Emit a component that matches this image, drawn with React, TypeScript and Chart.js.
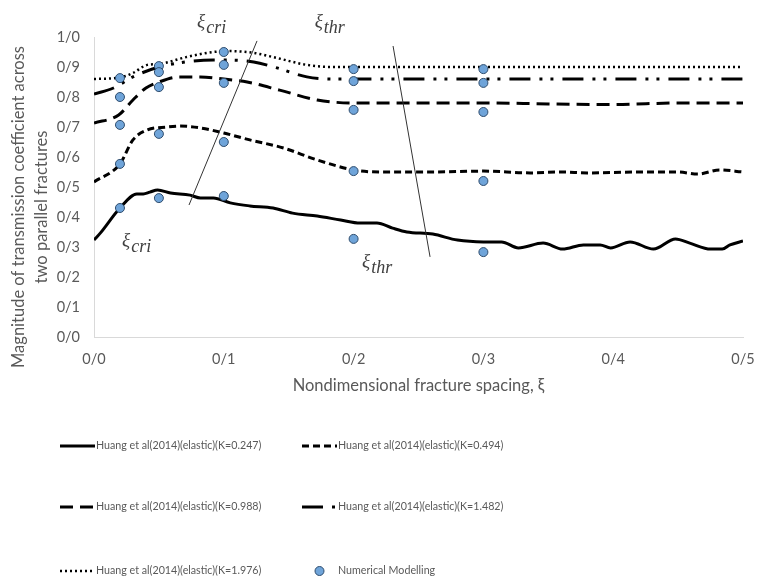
import React, { useEffect, useRef } from 'react';
import { Chart, registerables } from 'chart.js';

Chart.register(...registerables);

// ---------- data ----------
const xTickLabels = ['0/0', '0/1', '0/2', '0/3', '0/4', '0/5'];
const yTickLabels = ['0/0', '0/1', '0/2', '0/3', '0/4', '0/5', '0/6', '0/7', '0/8', '0/9', '1/0'];

const seriesLabels = [
  'Huang et al(2014)(elastic)(K=0.247)',
  'Huang et al(2014)(elastic)(K=0.494)',
  'Huang et al(2014)(elastic)(K=0.988)',
  'Huang et al(2014)(elastic)(K=1.482)',
  'Huang et al(2014)(elastic)(K=1.976)',
  'Numerical Modelling',
];

const k0247X = [0, 0.005, 0.02, 0.033, 0.038, 0.043, 0.049, 0.059, 0.074, 0.082, 0.092, 0.105, 0.12, 0.138, 0.153, 0.172, 0.19, 0.205, 0.218, 0.23, 0.241, 0.261, 0.28, 0.3, 0.314, 0.327, 0.346, 0.361, 0.377, 0.39, 0.398, 0.413, 0.431, 0.448, 0.459, 0.475, 0.484, 0.49, 0.5];
const k0247Y = [0.323, 0.347, 0.43, 0.477, 0.477, 0.483, 0.49, 0.48, 0.473, 0.463, 0.463, 0.447, 0.437, 0.43, 0.413, 0.403, 0.39, 0.38, 0.38, 0.363, 0.35, 0.343, 0.323, 0.317, 0.317, 0.297, 0.313, 0.293, 0.307, 0.307, 0.297, 0.317, 0.293, 0.327, 0.313, 0.293, 0.293, 0.307, 0.32];

const k0494X = [0, 0.02, 0.03, 0.041, 0.056, 0.066, 0.082, 0.1, 0.12, 0.146, 0.172, 0.2, 0.22, 0.26, 0.3, 0.336, 0.36, 0.38, 0.42, 0.45, 0.465, 0.482, 0.5];
const k0494Y = [0.517, 0.577, 0.657, 0.69, 0.7, 0.703, 0.697, 0.68, 0.657, 0.63, 0.59, 0.557, 0.55, 0.55, 0.553, 0.547, 0.55, 0.547, 0.55, 0.55, 0.543, 0.557, 0.55];

const k0988X = [0, 0.019, 0.03, 0.04, 0.05, 0.066, 0.082, 0.1, 0.118, 0.143, 0.172, 0.2, 0.25, 0.3, 0.35, 0.4, 0.45, 0.5];
const k0988Y = [0.713, 0.74, 0.79, 0.83, 0.85, 0.867, 0.867, 0.86, 0.85, 0.823, 0.79, 0.78, 0.78, 0.78, 0.777, 0.775, 0.78, 0.78];

const k1482X = [0, 0.015, 0.03, 0.05, 0.071, 0.092, 0.105, 0.123, 0.141, 0.164, 0.184, 0.2, 0.25, 0.3, 0.35, 0.4, 0.45, 0.5];
const k1482Y = [0.81, 0.83, 0.867, 0.9, 0.917, 0.923, 0.923, 0.917, 0.897, 0.867, 0.86, 0.86, 0.86, 0.86, 0.86, 0.86, 0.86, 0.86];

const k1976X = [0, 0.02, 0.03, 0.041, 0.05, 0.071, 0.092, 0.105, 0.123, 0.141, 0.164, 0.184, 0.2, 0.3, 0.4, 0.5];
const k1976Y = [0.86, 0.865, 0.88, 0.907, 0.91, 0.933, 0.95, 0.953, 0.947, 0.93, 0.907, 0.9, 0.9, 0.9, 0.9, 0.9];

const numX = [0.02, 0.02, 0.02, 0.02, 0.02, 0.05, 0.05, 0.05, 0.05, 0.05, 0.1, 0.1, 0.1, 0.1, 0.1, 0.2, 0.2, 0.2, 0.2, 0.2, 0.3, 0.3, 0.3, 0.3, 0.3];
const numY = [0.863, 0.8, 0.707, 0.577, 0.43, 0.903, 0.883, 0.833, 0.677, 0.463, 0.95, 0.907, 0.847, 0.65, 0.47, 0.893, 0.853, 0.757, 0.553, 0.327, 0.893, 0.847, 0.75, 0.52, 0.283];

// annotation guide lines (data coordinates)
const criLine = [[0.0732, 0.44], [0.1256, 0.987]];
const thrLine = [[0.2589, 0.267], [0.2304, 0.97]];
// annotation labels: [x, y, subscript]
const xiLabels: [number, number, string][] = [
  [0.0794, 1.033, 'cri'],
  [0.17, 1.033, 'thr'],
  [0.0216, 0.303, 'cri'],
  [0.2065, 0.233, 'thr'],
];

const yTitle = ['Magnitude of transmission coefficient across', 'two parallel fractures'];
const xTitle = 'Nondimensional fracture spacing, \u03BE';

// ---------- helpers ----------
const pts = (xs: number[], ys: number[]) => xs.map((x, i) => ({ x, y: ys[i] }));
const FONT = 'Lato';
const GRAY = '#595959';

const overlayPlugin = {
  id: 'overlay',
  afterDatasetsDraw(chart: any) {
    const { ctx, scales } = chart;
    const xs = scales.x;
    const ys = scales.y;
    ctx.save();
    ctx.strokeStyle = '#333333';
    ctx.lineWidth = 1;
    [criLine, thrLine].forEach((ln) => {
      ctx.beginPath();
      ctx.moveTo(xs.getPixelForValue(ln[0][0]), ys.getPixelForValue(ln[0][1]));
      ctx.lineTo(xs.getPixelForValue(ln[1][0]), ys.getPixelForValue(ln[1][1]));
      ctx.stroke();
    });
    ctx.fillStyle = '#404040';
    ctx.textBaseline = 'alphabetic';
    ctx.textAlign = 'left';
    xiLabels.forEach(([x, y, sub]) => {
      const px = xs.getPixelForValue(x);
      const py = ys.getPixelForValue(y);
      ctx.font = 'italic 19px "Liberation Serif"';
      ctx.fillText('\u03BE', px, py);
      const w = ctx.measureText('\u03BE').width;
      ctx.font = 'italic 18px "Liberation Serif"';
      ctx.fillText(sub, px + w + 1, py + 6);
    });
    ctx.restore();
  },
  afterDraw(chart: any) {
    const { ctx } = chart;
    ctx.save();
    // y axis title
    ctx.fillStyle = GRAY;
    ctx.font = `16.5px ${FONT}`;
    ctx.textAlign = 'center';
    ctx.textBaseline = 'middle';
    const cy = 207;
    yTitle.forEach((t, i) => {
      ctx.save();
      ctx.translate(19 + i * 23, cy);
      ctx.rotate(-Math.PI / 2);
      ctx.fillText(t, 0, 0);
      ctx.restore();
    });
    // legend
    const colX = [60, 302];
    const rowY = [446, 507, 571];
    const sampleLen = 35;
    chart.data.datasets.forEach((ds: any, i: number) => {
      const col = i % 2;
      const row = Math.floor(i / 2);
      const x0 = colX[col];
      const y0 = rowY[row];
      if (ds.showLine === false) {
        ctx.beginPath();
        ctx.arc(x0 + sampleLen / 2, y0, 4.5, 0, Math.PI * 2);
        ctx.fillStyle = ds.backgroundColor;
        ctx.fill();
        ctx.lineWidth = 1;
        ctx.strokeStyle = ds.borderColor;
        ctx.stroke();
      } else {
        ctx.beginPath();
        ctx.setLineDash(ds.borderDash || []);
        ctx.lineWidth = ds.borderWidth;
        ctx.strokeStyle = ds.borderColor;
        ctx.moveTo(x0, y0);
        ctx.lineTo(x0 + sampleLen, y0);
        ctx.stroke();
        ctx.setLineDash([]);
      }
      ctx.fillStyle = GRAY;
      ctx.font = `10.7px ${FONT}`;
      ctx.textAlign = 'left';
      ctx.textBaseline = 'middle';
      ctx.fillText(ds.label, x0 + sampleLen + 1, y0);
    });
    ctx.restore();
  },
};

export default function App() {
  const ref = useRef<HTMLCanvasElement | null>(null);
  useEffect(() => {
    document.body.style.margin = '0';
    const canvas = ref.current;
    if (!canvas) return;
    const lineDs = (label: string, xs: number[], ys: number[], dash: number[], width: number) => ({
      label,
      data: pts(xs, ys),
      borderColor: '#000000',
      backgroundColor: '#000000',
      borderWidth: width,
      borderDash: dash,
      pointRadius: 0,
      showLine: true,
      fill: false,
      tension: 0.4,
      cubicInterpolationMode: 'monotone',
    });
    const chart = new Chart(canvas, {
      type: 'line',
      data: {
        datasets: [
          lineDs(seriesLabels[0], k0247X, k0247Y, [], 3),
          lineDs(seriesLabels[1], k0494X, k0494Y, [7, 4], 3),
          lineDs(seriesLabels[2], k0988X, k0988Y, [13, 7], 3),
          lineDs(seriesLabels[3], k1482X, k1482Y, [21, 9, 3, 8, 3, 9], 3),
          lineDs(seriesLabels[4], k1976X, k1976Y, [2, 3], 2.5),
          {
            label: seriesLabels[5],
            data: pts(numX, numY),
            showLine: false,
            pointRadius: 4.5,
            pointBorderWidth: 1,
            backgroundColor: '#6fa4d9',
            borderColor: '#2e4c6d',
            order: -1,
          } as any,
        ],
      },
      options: {
        animation: false,
        responsive: false,
        maintainAspectRatio: false,
        layout: { padding: { left: 0, right: 15, top: 37, bottom: 187 } },
        plugins: { legend: { display: false }, tooltip: { enabled: false } },
        scales: {
          x: {
            type: 'linear',
            min: 0,
            max: 0.5,
            ticks: {
              stepSize: 0.1,
              color: GRAY,
              font: { family: FONT, size: 14.5 },
              padding: 14,
              callback: (v: any) => xTickLabels[Math.round(Number(v) * 10)] ?? '',
            },
            grid: { color: 'rgba(0,0,0,0)', drawTicks: false },
            border: { color: '#d9d9d9', width: 1 },
            title: {
              display: true,
              text: xTitle,
              color: GRAY,
              font: { family: FONT, size: 16.5 },
              padding: { top: 0, bottom: 1 },
            },
            afterFit: (s: any) => {
              s.height = 60;
              s.paddingLeft = 0;
              s.paddingRight = 0;
            },
          },
          y: {
            type: 'linear',
            min: 0,
            max: 1,
            ticks: {
              stepSize: 0.1,
              color: GRAY,
              font: { family: FONT, size: 14.5 },
              padding: 14,
              callback: (v: any) => yTickLabels[Math.round(Number(v) * 10)] ?? '',
            },
            grid: { color: 'rgba(0,0,0,0)', drawTicks: false },
            border: { color: '#d9d9d9', width: 1 },
            afterFit: (s: any) => {
              s.width = 94;
              s.paddingTop = 0;
              s.paddingBottom = 0;
            },
          },
        },
      } as any,
      plugins: [overlayPlugin],
    });
    return () => chart.destroy();
  }, []);
  return (
    <div style={{ width: 758, height: 584 }}>
      <canvas ref={ref} width={758} height={584} style={{ width: 758, height: 584, display: 'block' }} />
    </div>
  );
}
